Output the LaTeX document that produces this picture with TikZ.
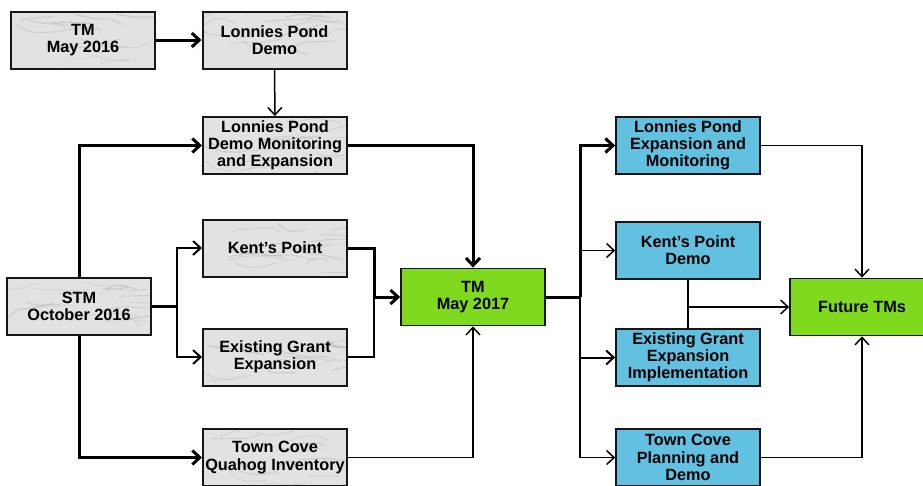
\documentclass[tikz,border=0pt]{standalone}
\usepackage{fontspec}
\setmainfont{Liberation Sans}
\usetikzlibrary{arrows.meta}

\definecolor{boxblue}{HTML}{62C1E0}
\definecolor{boxgreen}{HTML}{7FDA1E}
\definecolor{marble}{HTML}{E2E2E2}
\definecolor{edge}{HTML}{161616}

% faint random veins that give the grey boxes a stone look
\newcommand\stoneveins{%
  \foreach \k in {1,...,18}{%
    \pgfmathsetmacro\vxa{rnd*135}%
    \pgfmathsetmacro\vya{rnd*52+3}%
    \pgfmathsetmacro\vdx{12+rnd*26}%
    \pgfmathsetmacro\vdy{(rnd-0.5)*16}%
    \pgfmathsetmacro\vex{8+rnd*18}%
    \pgfmathsetmacro\vey{(rnd-0.5)*12}%
    \pgfmathsetmacro\vw{0.4+rnd*0.9}%
    \draw[gray!70, line width=\vw pt, opacity=0.35, line cap=round]
      (path picture bounding box.north west) ++(\vxa pt,-\vya pt)
      .. controls +(\vdx pt*0.5,\vdy pt) .. ++(\vdx pt,\vdy pt)
      -- ++(\vex pt,\vey pt);
  }%
}

\tikzset{
  box/.style={draw=edge, minimum width=144pt, minimum height=57pt,
    inner sep=0pt, align=center,
    font=\fontsize{16.3}{17.2}\selectfont\bfseries},
  stone/.style={box, line width=2pt, fill=marble,
    path picture={\stoneveins}},
  water/.style={box, line width=1.7pt, fill=boxblue},
  meet/.style={box, line width=1.7pt, fill=boxgreen},
  heavy/.style={line width=3pt},
  medium/.style={line width=2pt},
  light/.style={line width=1.5pt},
  >={Straight Barb[length=7.5pt,width=14pt]},
}

\begin{document}
\begin{tikzpicture}[x=1pt, y=-1pt]
\pgfmathsetseed{11}
\useasboundingbox (0,0) rectangle (923,485);
\clip (0,0) rectangle (923,485);

% left column
\node[stone] (tm16) at (83,40)    {TM\\May 2016};
\node[stone] (stm)  at (79,306)   {STM\\October 2016};

% second column
\node[stone] (lpd)   at (274.5,40)  {Lonnies Pond\\Demo};
\node[stone] (lpdme) at (275,145.5) {Lonnies Pond\\Demo Monitoring\\and Expansion};
\node[stone] (kp)    at (275,248)   {Kent’s Point};
\node[stone] (ege)   at (275,357)   {Existing Grant\\Expansion};
\node[stone] (tcq)   at (275,457.5) {Town Cove\\Quahog Inventory};

% town meeting 2017
\node[meet] (tm17) at (473,297) {TM\\May 2017};

% follow-on projects
\node[water] (lpem) at (688,145.5) {Lonnies Pond\\Expansion and\\Monitoring};
\node[water] (kpd)  at (688,250.5) {Kent’s Point\\Demo};
\node[water] (egi)  at (688,357.5) {Existing Grant\\Expansion\\Implementation};
\node[water] (tcp)  at (688,457.5) {Town Cove\\Planning and\\Demo};

\node[meet] (fut) at (862,307) {Future TMs};

% junction points
\coordinate (sj) at (177,306);
\coordinate (kj) at (374,297);
\coordinate (rj) at (580,297);

% connectors, left half
\draw[heavy,->] (tm16) -- (lpd);
\draw[light,->] (lpd) -- (lpdme);
\draw[heavy,->] (stm.north) |- (lpdme.west);
\draw[heavy] (stm.east) -- (sj);
\draw[medium,->] (sj) |- (kp.west);
\draw[medium,->] (sj) |- (ege.west);
\draw[heavy,->] (stm.south) |- (tcq.west);

% connectors into TM May 2017
\draw[heavy,->] (lpdme.east) -| (tm17.north);
\draw[heavy,->] (kp.east) -| (kj) -- (tm17.west);
\draw[light] (ege.east) -| (kj);
\draw[light,->] (tcq.east) -| (tm17.south);

% connectors out of TM May 2017
\draw[heavy] (tm17.east) -- (rj);
\draw[light,->] (rj) |- (tcp.west);
\draw[medium,->] (rj) |- (egi.west);
\draw[light,->] (rj) |- (kpd.west);
\draw[heavy,->] (rj) |- (lpem.west);

% connectors into Future TMs
\draw[light,->] (lpem.east) -| (fut.north);
\draw[light] (kpd.south) -- (egi.north);
\draw[light,->] (kpd.south |- fut.west) -- (fut.west);
\draw[light,->] (tcp.east) -| (fut.south);
\end{tikzpicture}
\end{document}
